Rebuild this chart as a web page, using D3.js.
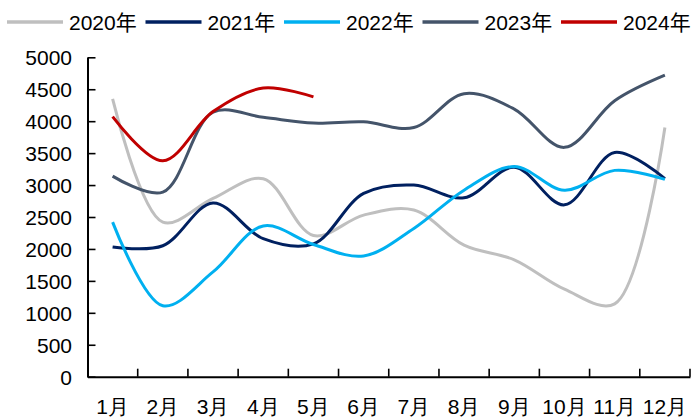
<!DOCTYPE html>
<html>
<head>
<meta charset="utf-8">
<script src="https://cdn.jsdelivr.net/npm/d3@7"></script>
<style>
  html, body { margin: 0; padding: 0; background: #fff; }
  svg { display: block; font-family: "Liberation Sans", Arial, "Noto Sans CJK SC", sans-serif; }
  .axis text { font-size: 21px; fill: #000; }
  .legend text { font-size: 21px; fill: #000; }
</style>
</head>
<body>
<svg id="chart" width="697" height="417"></svg>
<script>
  // months on the x axis
  var months = ["1月", "2月", "3月", "4月", "5月", "6月", "7月", "8月", "9月", "10月", "11月", "12月"];
  var yTicks = [0, 500, 1000, 1500, 2000, 2500, 3000, 3500, 4000, 4500, 5000];

  // one array per year
  var y2020 = [4350, 2420, 2790, 3100, 2210, 2530, 2610, 2060, 1830, 1370, 1140, 3900];
  var y2021 = [2030, 2050, 2720, 2160, 2080, 2870, 3000, 2800, 3280, 2690, 3510, 3100];
  var y2022 = [2420, 1110, 1640, 2360, 2070, 1890, 2320, 2920, 3290, 2920, 3230, 3090];
  var y2023 = [3140, 2890, 4140, 4060, 3970, 3990, 3900, 4430, 4190, 3590, 4320, 4720];
  var y2024 = [4070, 3380, 4150, 4520, 4380];

  var seriesNames = ["2020年", "2021年", "2022年", "2023年", "2024年"];
  var seriesColors = ["#bfbfbf", "#002060", "#00b0f0", "#44546a", "#c00000"];

  var series = [y2020, y2021, y2022, y2023, y2024].map(function(vals, i) {
    return { name: seriesNames[i], color: seriesColors[i], values: vals };
  });

  var svg = d3.select("#chart");
  var plot = { left: 87.5, right: 690, top: 57.3, bottom: 376.7 };

  var x = d3.scaleBand().domain(months).range([plot.left, plot.right]).padding(0);
  var y = d3.scaleLinear().domain([0, 5000]).range([plot.bottom, plot.top]);

  // y axis, ticks pointing into the plot
  var yAxis = svg.append("g")
      .attr("class", "axis")
      .attr("transform", "translate(" + plot.left + ",0)")
      .call(d3.axisLeft(y).tickValues(yTicks).tickSize(-8).tickSizeOuter(0).tickPadding(15.5).tickFormat(d3.format("d")));
  yAxis.select(".domain").attr("stroke", "#000").attr("stroke-width", 2);
  yAxis.selectAll(".tick line").attr("stroke", "#000").attr("stroke-width", 1.6);
  yAxis.selectAll(".tick text").attr("dy", "0.35em");

  // x axis: labels at band centres, ticks at band edges
  var xAxis = svg.append("g")
      .attr("class", "axis")
      .attr("transform", "translate(0," + plot.bottom + ")")
      .call(d3.axisBottom(x).tickSize(0).tickSizeOuter(0).tickPadding(22.5));
  xAxis.select(".domain").attr("stroke", "#000").attr("stroke-width", 2);

  var edges = months.slice(1).map(function(m) { return x(m); }).concat([plot.right]);
  xAxis.selectAll(".edge")
    .data(edges)
    .enter().append("line")
      .attr("class", "edge")
      .attr("x1", function(d) { return d; })
      .attr("x2", function(d) { return d; })
      .attr("y1", 0)
      .attr("y2", -8)
      .attr("stroke", "#000")
      .attr("stroke-width", 1.6);

  var line = d3.line()
      .x(function(d, i) { return x(months[i]) + x.bandwidth() / 2; })
      .y(function(d) { return y(d); })
      .curve(d3.curveCatmullRom.alpha(0.5));

  svg.append("g").selectAll("path")
    .data(series)
    .enter().append("path")
      .attr("fill", "none")
      .attr("stroke", function(d) { return d.color; })
      .attr("stroke-width", 3)
      .attr("stroke-linejoin", "round")
      .attr("d", function(d) { return line(d.values); });

  // legend across the top
  var legend = svg.append("g").attr("class", "legend");
  var item = legend.selectAll("g")
    .data(series)
    .enter().append("g")
      .attr("transform", function(d, i) { return "translate(" + (7 + 138.5 * i) + ",0)"; });
  item.append("line")
      .attr("x1", 0).attr("x2", 56)
      .attr("y1", 22).attr("y2", 22)
      .attr("stroke", function(d) { return d.color; })
      .attr("stroke-width", 3.3);
  item.append("text")
      .attr("x", 62)
      .attr("y", 30)
      .text(function(d) { return d.name; });
</script>
</body>
</html>
